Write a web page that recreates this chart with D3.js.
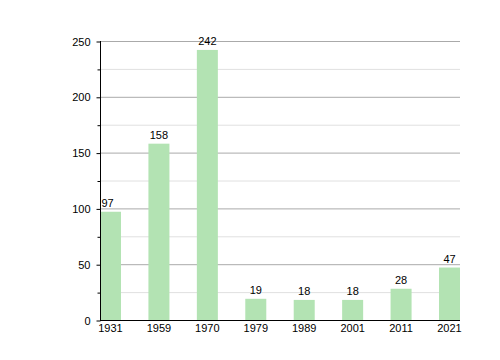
<!DOCTYPE html>
<html><head><meta charset="utf-8">
<script src="https://cdn.jsdelivr.net/npm/d3@7"></script>
<style>body{margin:0;background:#fff}svg{display:block}text{font-family:"Liberation Sans",Arial,sans-serif;font-size:11px;fill:#000}</style>
</head><body><svg id="c" width="500" height="360"></svg>
<script>
const categories = ["1931","1959","1970","1979","1989","2001","2011","2021"];
const values = [97,158,242,19,18,18,28,47];
const majorTicks = [0,50,100,150,200,250];
const minorTicks = [25,75,125,175,225];

(function(){
const svg = d3.select("#c");
const mLeft = 100, mRight = 460, mTop = 41, mBottom = 320;
const y = d3.scaleLinear().domain([0,250]).range([mBottom, mTop]);
const barW = 21;
const x = d3.scalePoint().domain(categories).range([mLeft, mRight - barW]);

// grid
svg.append("g").selectAll("line").data(minorTicks).join("line")
  .attr("x1", mLeft).attr("x2", mRight).attr("y1", d=>y(d)+0.5).attr("y2", d=>y(d)+0.5)
  .attr("stroke", "#e0e0e0");
svg.append("g").selectAll("line").data(majorTicks.filter(d=>d>0)).join("line")
  .attr("x1", mLeft).attr("x2", mRight).attr("y1", d=>y(d)+0.5).attr("y2", d=>y(d)+0.5)
  .attr("stroke", "#aaaaaa");

// bars
svg.append("g").selectAll("rect").data(values).join("rect")
  .attr("x", (d,i)=>x(categories[i]) + (i===0?1:0))
  .attr("width", (d,i)=> i===0? barW-1 : barW)
  .attr("y", d=>y(d)).attr("height", d=>mBottom - y(d))
  .attr("fill", "#b3e3b3");

// value labels
svg.append("g").selectAll("text").data(values).join("text")
  .attr("x", (d,i)=>x(categories[i]) + barW/2 - (i===0?3:0))
  .attr("y", d=>y(d) - 5)
  .attr("text-anchor","middle").text(d=>d);

// y axis
const yAxis = d3.axisLeft(y).tickValues(majorTicks).tickSize(4).tickPadding(6);
const gy = svg.append("g").attr("transform", `translate(${mLeft+0.5},0.5)`).call(yAxis);
gy.select(".domain").attr("stroke","#000").attr("d", `M0,${mTop-0.5}V${mBottom}`);
gy.selectAll(".tick line").attr("stroke","#000");
gy.selectAll(".tick text").style("font-family",'"Liberation Sans",Arial,sans-serif').style("font-size","11px").attr("fill","#000");
const yMinor = d3.axisLeft(y).tickValues(minorTicks).tickSize(3).tickFormat("");
const gym = svg.append("g").attr("transform", `translate(${mLeft+0.5},0.5)`).call(yMinor);
gym.select(".domain").remove();
gym.selectAll(".tick line").attr("stroke","#000");

// x axis
svg.append("line").attr("x1", mLeft).attr("x2", mRight).attr("y1", mBottom+0.5).attr("y2", mBottom+0.5).attr("stroke","#000");
svg.append("g").selectAll("text").data(categories).join("text")
  .attr("x", d=>x(d) + barW/2).attr("y", mBottom + 12)
  .attr("text-anchor","middle").text(d=>d);
})();
</script></body></html>
